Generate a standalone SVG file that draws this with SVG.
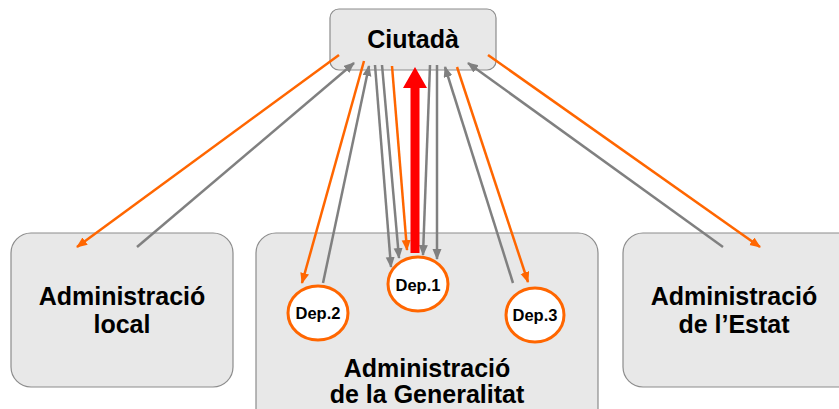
<svg xmlns="http://www.w3.org/2000/svg" width="839" height="409" viewBox="0 0 839 409">
<style>
.box{fill:#E8E8E8;stroke:#8C8C8C;stroke-width:1.2}
.dep{fill:#FFFFFF;stroke:#FF6600;stroke-width:3}
.big{font-family:"Liberation Sans",Arial,sans-serif;font-weight:bold;font-size:25px;fill:#000;text-anchor:middle}
.small{font-family:"Liberation Sans",Arial,sans-serif;font-weight:bold;font-size:16.5px;fill:#000;text-anchor:middle}
.o{stroke:#FF6600;stroke-width:2.5;fill:none;marker-end:url(#ao)}
.g{stroke:#808080;stroke-width:2.5;fill:none;marker-end:url(#ag)}
</style>
<defs>
<marker id="ao" markerUnits="userSpaceOnUse" markerWidth="12" markerHeight="10" refX="10" refY="4.5" orient="auto"><path d="M0,0 L11,4.5 L0,9 z" fill="#FF6600"/></marker>
<marker id="ag" markerUnits="userSpaceOnUse" markerWidth="12" markerHeight="10" refX="10" refY="4.5" orient="auto"><path d="M0,0 L11,4.5 L0,9 z" fill="#808080"/></marker>
</defs>
<g id="ciutada"><rect class="box" x="330" y="9" width="166" height="61" rx="9"/><text class="big" x="413" y="48">Ciutadà</text></g>
<g id="local"><rect class="box" x="11" y="233" width="222" height="154" rx="20"/><text class="big" x="122" y="305">Administració</text><text class="big" x="122" y="333">local</text></g>
<g id="generalitat"><rect class="box" x="256" y="233" width="342" height="200" rx="20"/><text class="big" x="427" y="377">Administració</text><text class="big" x="427" y="403">de la Generalitat</text></g>
<g id="estat"><rect class="box" x="623" y="233" width="240" height="154" rx="20"/><text class="big" x="734" y="305">Administració</text><text class="big" x="734" y="333">de l’Estat</text></g>
<g id="connectors">
<line class="o" x1="339" y1="55" x2="77" y2="247"/>
<line class="g" x1="137" y1="247" x2="354" y2="63"/>
<line class="o" x1="364" y1="61" x2="302" y2="283"/>
<line class="g" x1="323" y1="283" x2="369" y2="66"/>
<line class="g" x1="375" y1="65" x2="391" y2="267"/>
<line class="g" x1="382" y1="65" x2="399" y2="258"/>
<line class="o" x1="392" y1="66" x2="407" y2="250"/>
<line class="g" x1="430" y1="65" x2="423" y2="255"/>
<line class="g" x1="437" y1="65" x2="437" y2="259"/>
<line class="g" x1="513" y1="283" x2="445" y2="67"/>
<line class="o" x1="457" y1="67" x2="528" y2="282"/>
<line class="g" x1="723" y1="247" x2="468" y2="63"/>
<line class="o" x1="488" y1="55" x2="760" y2="247"/>
<path d="M410.5,253 L410.5,88 L403,88 L415,67 L427,88 L419.5,88 L419.5,253 z" fill="#FF0000"/>
</g>
<g id="dep1"><ellipse class="dep" cx="418" cy="284" rx="30" ry="27"/><text class="small" x="418" y="291">Dep.1</text></g>
<g id="dep2"><ellipse class="dep" cx="318" cy="313" rx="30" ry="27"/><text class="small" x="318" y="319">Dep.2</text></g>
<g id="dep3"><ellipse class="dep" cx="535" cy="315" rx="29" ry="27"/><text class="small" x="535" y="321">Dep.3</text></g>
</svg>
